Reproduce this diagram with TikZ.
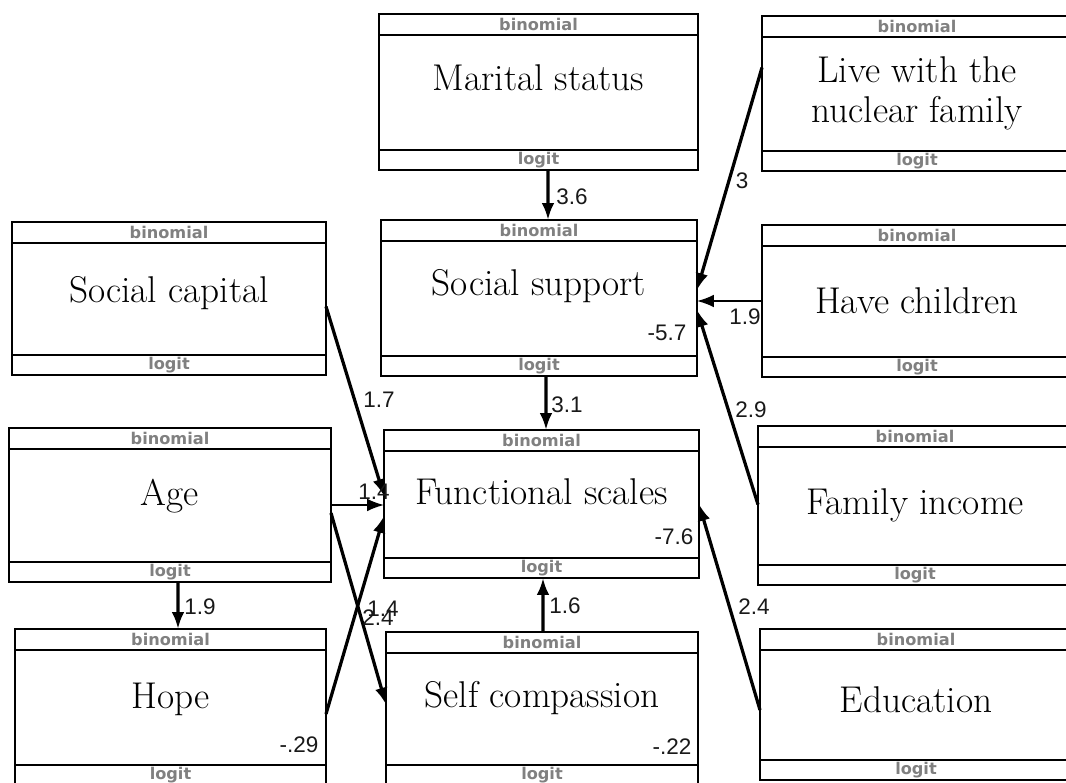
\documentclass[tikz,border=0pt]{standalone}
\usepackage{fontspec}
\usepackage{tikz}
\usepackage{xcolor}
\usetikzlibrary{arrows.meta,calc,fit}

\newfontfamily\coeffont{Liberation Sans}
\newfontfamily\stripfont{DejaVu Sans}

\tikzset{
  glm/.style={draw, line width=2.1pt, inner sep=0pt, outer sep=0pt},
  stripline/.style={line width=1.3pt},
  striptext/.style={font=\stripfont\bfseries\fontsize{11.5}{12}\selectfont, text=black!50, inner sep=0pt},
  vartext/.style={font=\fontsize{26.5}{28}\selectfont, align=center, inner sep=0pt},
  link/.style={line width=2.3pt, -{Latex[length=12pt,width=9pt]}},
  thinlink/.style={link, line width=1.2pt},
  coef/.style={font=\coeffont\fontsize{16}{16}\selectfont, text=black!90, inner sep=0pt}
}

% box with family strip on top and link strip below
\newcommand{\glmbox}[7]{%
  \node[glm, fit={(#2,#3) (#4,#5)}] (#1) {};
  \draw[stripline] ($(#1.north west)+(0,21)$) -- ($(#1.north east)+(0,21)$);
  \draw[stripline] ($(#1.south west)+(0,-20)$) -- ($(#1.south east)+(0,-20)$);
  \node[striptext] (#1-fam) at ($(#1.north)+(0,10.5)$) {binomial};
  \node[striptext] (#1-link) at ($(#1.south)+(0,-10)$) {logit};
  \node[vartext] (#1-name) at ($(#1.center)+(0,#6)$) {#7};
}

\begin{document}
\begin{tikzpicture}[x=0.025cm,y=-0.025cm]
    \useasboundingbox[fill=white] (0,0) rectangle (1066,783);

    % Boxes
    \glmbox{marital}{379}{14}{698}{170}{-14.5}{Marital status}
    \glmbox{live}{762}{16}{1072}{171}{0}{Live with the\\nuclear family}
    \glmbox{capital}{12}{222}{326}{375}{-5}{Social capital}
    \glmbox{support}{381}{220}{697}{376}{-12}{Social support}
    \glmbox{children}{762}{225}{1072}{377}{0}{Have children}
    \glmbox{age}{9}{428}{331}{582}{-9}{Age}
    \glmbox{functional}{384}{430}{699}{578}{-12.5}{Functional scales}
    \glmbox{income}{758}{426}{1072}{585}{0}{Family income}
    \glmbox{hope}{15}{629}{326}{785}{-8}{Hope}
    \glmbox{selfc}{386}{632}{698}{785}{-10.5}{Self compassion}
    \glmbox{education}{760}{629}{1072}{780}{-5}{Education}

    % Paths into social support
    \draw[link] ($(marital.south)+(9.5,0)$) -- ($(support.north)+(9,0)$);
    \draw[link] ($(live.west)+(0,-26)$) -- ($(support.east)+(0,-8)$);
    \draw[thinlink] (children.west) -- (children.west -| support.east);
    \draw[link] ($(income.west)+(0,-1)$) -- ($(support.east)+(0,12)$);

    % Paths into functional scales
    \draw[link] ($(support.south)+(7,0)$) -- ($(functional.north)+(4.5,0)$);
    \draw[link] ($(capital.east)+(0,8)$) -- ($(functional.west)+(0,-8)$);
    \draw[thinlink] (age.east) -- (age.east -| functional.west);
    \draw[link] ($(hope.east)+(0,7)$) -- ($(functional.west)+(0,12)$);
    \draw[link] ($(selfc.north)+(1,0)$) -- ($(functional.south)+(1.5,0)$);
    \draw[link] ($(education.west)+(0,5.5)$) -- (functional.east);

    % Paths out of age
    \draw[link] ($(age.south)+(8,0)$) -- ($(hope.north)+(7.5,0)$);
    \draw[link] ($(age.east)+(0,8)$) -- ($(selfc.west)+(0,-4)$);

    % Coefficients
    \node[coef] (c-marital) at (572,197) {3.6};
    \node[coef] (c-live) at (742,181) {3};
    \node[coef] (c-children) at (745,317) {1.9};
    \node[coef] (c-income) at (751,410) {2.9};
    \node[coef] (c-support) at (567,405) {3.1};
    \node[coef] (c-capital) at (379,400) {1.7};
    \node[coef] (c-agefun) at (374,492) {1.4};
    \node[coef] (c-ageself) at (383,609) {1.4};
    \node[coef] (c-hope) at (378,618) {2.4};
    \node[coef] (c-selfc) at (565,606) {1.6};
    \node[coef] (c-education) at (754,607) {2.4};
    \node[coef] (c-agehope) at (200,607) {1.9};

    % Intercepts
    \node[coef] (i-support) at (667,333) {-5.7};
    \node[coef] (i-functional) at (674,537) {-7.6};
    \node[coef] (i-hope) at (299,745) {-.29};
    \node[coef] (i-selfc) at (672,747) {-.22};
\end{tikzpicture}
\end{document}
